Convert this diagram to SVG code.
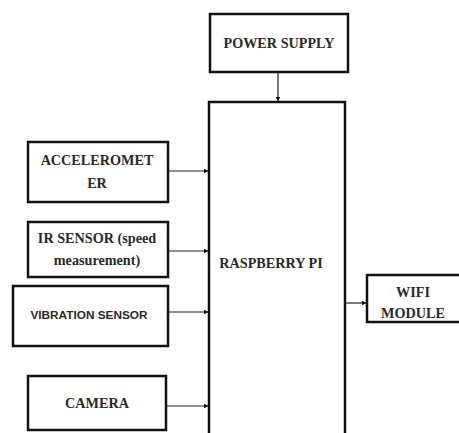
<svg xmlns="http://www.w3.org/2000/svg" width="459" height="433" viewBox="0 0 459 433">
<style>
.box{fill:#fff;stroke:#111;stroke-width:2.5}
.t{font-family:"Liberation Serif","Times New Roman",serif;font-weight:bold;font-size:14.2px;fill:#2a2a2a;text-anchor:middle}
.s{font-family:"Liberation Sans",Arial,sans-serif;font-weight:bold;font-size:11.8px;fill:#2a2a2a;text-anchor:middle}
.c{stroke:#222;stroke-width:1.2;fill:none}
</style>
<defs>
<marker id="ah" viewBox="0 0 10 10" refX="9" refY="5" markerWidth="5" markerHeight="5" orient="auto" markerUnits="userSpaceOnUse">
<path d="M0,0 L10,5 L0,10 z" fill="#111"/>
</marker>
</defs>
<rect width="459" height="433" fill="#fff"/>
<g id="connectors">
<line class="c" x1="278" y1="72" x2="278" y2="101" marker-end="url(#ah)"/>
<line class="c" x1="168" y1="171" x2="208" y2="171" marker-end="url(#ah)"/>
<line class="c" x1="168" y1="251" x2="208" y2="251" marker-end="url(#ah)"/>
<line class="c" x1="168" y1="312" x2="208" y2="312" marker-end="url(#ah)"/>
<line class="c" x1="166" y1="406" x2="208" y2="406" marker-end="url(#ah)"/>
<line class="c" x1="345" y1="303" x2="366" y2="303" marker-end="url(#ah)"/>
</g>
<g id="power">
<rect class="box" x="210" y="14" width="138" height="58"/>
<text class="t" x="279" y="48">POWER SUPPLY</text>
</g>
<g id="raspberry">
<rect class="box" x="209" y="102" width="136" height="340"/>
<text class="t" x="271" y="268">RASPBERRY PI</text>
</g>
<g id="accelerometer">
<rect class="box" x="28" y="142" width="140" height="60"/>
<text class="t" x="97" y="165">ACCELEROMET</text>
<text class="t" x="97" y="188">ER</text>
</g>
<g id="ir">
<rect class="box" x="28" y="222" width="140" height="55"/>
<text class="t" x="97" y="243">IR SENSOR (speed</text>
<text class="t" x="97" y="265">measurement)</text>
</g>
<g id="vibration">
<rect class="box" x="13" y="286" width="155" height="60"/>
<text class="s" x="89" y="319">VIBRATION SENSOR</text>
</g>
<g id="camera">
<rect class="box" x="28" y="376" width="138" height="54"/>
<text class="t" x="97" y="408">CAMERA</text>
</g>
<g id="wifi">
<rect class="box" x="367" y="275" width="96" height="47"/>
<text class="t" x="413" y="297">WIFI</text>
<text class="t" x="413" y="318">MODULE</text>
</g>
</svg>
